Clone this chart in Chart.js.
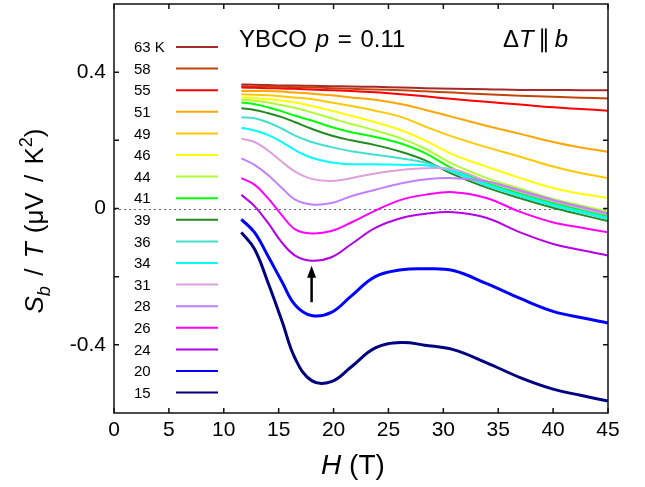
<!DOCTYPE html>
<html>
<head>
<meta charset="utf-8">
<script src="https://cdn.jsdelivr.net/npm/chart.js@4.4.1/dist/chart.umd.min.js"></script>
<style>
  html, body { margin: 0; padding: 0; background: #fff; }
  canvas { display: block; }
</style>
</head>
<body>
<canvas id="myChart" width="645" height="487"></canvas>
<script>
// field values (T) shared by all curves
const fields = [11.6, 12.8, 14, 15.3, 16.5, 18, 19.8, 21.6, 23.8, 26.2, 28.3, 30.9, 33.9, 37, 40, 42.5, 45];

// S_b / T curves, one per temperature
const s63 = [0.364, 0.363, 0.362, 0.361, 0.361, 0.360, 0.359, 0.358, 0.357, 0.355, 0.353, 0.351, 0.350, 0.348, 0.348, 0.347, 0.347];
const s58 = [0.359, 0.358, 0.358, 0.357, 0.356, 0.355, 0.353, 0.351, 0.349, 0.347, 0.344, 0.340, 0.335, 0.331, 0.328, 0.325, 0.323];
const s55 = [0.355, 0.354, 0.353, 0.352, 0.351, 0.349, 0.347, 0.345, 0.341, 0.335, 0.329, 0.321, 0.313, 0.305, 0.297, 0.292, 0.287];
const s51 = [0.345, 0.345, 0.345, 0.343, 0.340, 0.337, 0.332, 0.326, 0.319, 0.306, 0.290, 0.268, 0.243, 0.219, 0.195, 0.179, 0.166];
const s49 = [0.335, 0.334, 0.332, 0.329, 0.326, 0.321, 0.311, 0.301, 0.287, 0.268, 0.241, 0.210, 0.180, 0.152, 0.123, 0.104, 0.089];
const s46 = [0.326, 0.324, 0.321, 0.316, 0.311, 0.301, 0.287, 0.272, 0.253, 0.229, 0.200, 0.158, 0.123, 0.089, 0.060, 0.043, 0.031];
const s44 = [0.319, 0.316, 0.311, 0.303, 0.295, 0.282, 0.265, 0.248, 0.229, 0.205, 0.176, 0.130, 0.090, 0.058, 0.028, 0.009, -0.009];
const s41 = [0.311, 0.306, 0.297, 0.285, 0.272, 0.258, 0.239, 0.224, 0.210, 0.190, 0.163, 0.116, 0.076, 0.044, 0.016, -0.004, -0.023];
const s39 = [0.294, 0.289, 0.280, 0.268, 0.253, 0.234, 0.214, 0.200, 0.186, 0.166, 0.142, 0.100, 0.062, 0.030, 0.002, -0.018, -0.037];
const s36 = [0.268, 0.265, 0.253, 0.234, 0.214, 0.195, 0.180, 0.168, 0.158, 0.147, 0.135, 0.106, 0.068, 0.036, 0.008, -0.012, -0.031];
const s34 = [0.236, 0.229, 0.216, 0.195, 0.171, 0.149, 0.135, 0.130, 0.130, 0.128, 0.127, 0.110, 0.071, 0.039, 0.011, -0.009, -0.028];
const s31 = [0.205, 0.195, 0.171, 0.137, 0.108, 0.087, 0.081, 0.089, 0.103, 0.113, 0.118, 0.115, 0.081, 0.049, 0.021, 0.001, -0.018];
const s28 = [0.147, 0.128, 0.099, 0.060, 0.026, 0.012, 0.016, 0.036, 0.055, 0.074, 0.085, 0.089, 0.080, 0.053, 0.025, 0.005, -0.014];
const s26 = [0.089, 0.070, 0.031, -0.020, -0.061, -0.073, -0.066, -0.041, -0.006, 0.026, 0.040, 0.048, 0.031, -0.010, -0.041, -0.056, -0.070];
const s24 = [0.040, 0.007, -0.041, -0.100, -0.138, -0.153, -0.143, -0.105, -0.057, -0.028, -0.016, -0.011, -0.027, -0.070, -0.104, -0.122, -0.138];
const s20 = [-0.032, -0.070, -0.138, -0.215, -0.283, -0.314, -0.305, -0.257, -0.200, -0.180, -0.177, -0.182, -0.220, -0.264, -0.302, -0.320, -0.336];
const s15 = [-0.070, -0.119, -0.215, -0.330, -0.440, -0.505, -0.508, -0.465, -0.409, -0.393, -0.401, -0.414, -0.452, -0.496, -0.530, -0.548, -0.565];

const temps = [63, 58, 55, 51, 49, 46, 44, 41, 39, 36, 34, 31, 28, 26, 24, 20, 15];
const series = [s63, s58, s55, s51, s49, s46, s44, s41, s39, s36, s34, s31, s28, s26, s24, s20, s15];
const colors = ['#a52a2a', '#c0440c', '#ff0000', '#ffa500', '#ffc800', '#ffff00', '#adff2f', '#00ff00',
                '#228b22', '#40e0d0', '#00ffff', '#dda0dd', '#c080ff', '#ff00ff', '#b400e6', '#0000ff', '#000080'];

// axis ticks
const xTicks = [0, 5, 10, 15, 20, 25, 30, 35, 40, 45];
const yTicks = [-0.4, -0.2, 0, 0.2, 0.4];
const yTickLabels = ['-0.4', '', '0', '', '0.4'];

// arrow marking the minimum of the 24 K curve
const arrowH = 18;
const arrowFrom = -0.275;
const arrowTo = -0.168;

const FONT = '"Liberation Sans", Arial, sans-serif';
const CHART = document.getElementById("myChart");

function richWidth(ctx, parts, size) {
    let w = 0;
    for (const p of parts) {
        const fs = (p.sub || p.sup) ? size * 0.7 : size;
        ctx.font = (p.it ? 'italic ' : '') + fs + 'px ' + FONT;
        w += ctx.measureText(p.t).width + (p.gap || 0);
    }
    return w;
}

function drawRich(ctx, parts, x, y, size) {
    let cx = x;
    for (const p of parts) {
        const fs = (p.sub || p.sup) ? size * 0.7 : size;
        ctx.font = (p.it ? 'italic ' : '') + fs + 'px ' + FONT;
        const dy = p.sub ? size * 0.28 : (p.sup ? -size * 0.42 : 0);
        ctx.fillText(p.t, cx, y + dy);
        cx += ctx.measureText(p.t).width + (p.gap || 0);
    }
}

const decor = {
    id: 'decor',
    beforeDatasetsDraw(chart) {
        const { ctx, chartArea: a, scales: { y } } = chart;
        // dotted zero line
        ctx.save();
        ctx.strokeStyle = '#666';
        ctx.lineWidth = 1.2;
        ctx.setLineDash([2, 3]);
        ctx.beginPath();
        ctx.moveTo(a.left, Math.round(y.getPixelForValue(0)) + 0.5);
        ctx.lineTo(a.right, Math.round(y.getPixelForValue(0)) + 0.5);
        ctx.stroke();
        ctx.restore();
    },
    afterDraw(chart) {
        const { ctx, chartArea: a, scales: { x, y } } = chart;
        ctx.save();
        // frame + inward ticks
        ctx.strokeStyle = '#111';
        ctx.lineWidth = 1.5;
        ctx.strokeRect(a.left, a.top, a.right - a.left, a.bottom - a.top);
        ctx.beginPath();
        xTicks.forEach(v => {
            const px = x.getPixelForValue(v);
            ctx.moveTo(px, a.bottom); ctx.lineTo(px, a.bottom - 5);
            ctx.moveTo(px, a.top); ctx.lineTo(px, a.top + 5);
        });
        yTicks.forEach(v => {
            const py = y.getPixelForValue(v);
            ctx.moveTo(a.left, py); ctx.lineTo(a.left + 5, py);
            ctx.moveTo(a.right, py); ctx.lineTo(a.right - 5, py);
        });
        ctx.stroke();

        // legend
        ctx.fillStyle = '#000';
        ctx.textBaseline = 'middle';
        ctx.font = '15px ' + FONT;
        temps.forEach((t, i) => {
            const ly = 47 + i * 21.6;
            ctx.fillText(i === 0 ? t + ' K' : String(t), 134, ly + 1);
            ctx.strokeStyle = colors[i];
            ctx.lineWidth = 2;
            ctx.beginPath();
            ctx.moveTo(176, ly); ctx.lineTo(218, ly);
            ctx.stroke();
        });

        // arrow
        const ax = x.getPixelForValue(arrowH);
        const y0 = y.getPixelForValue(arrowFrom);
        const y1 = y.getPixelForValue(arrowTo);
        ctx.strokeStyle = '#000';
        ctx.fillStyle = '#000';
        ctx.lineWidth = 2.5;
        ctx.beginPath();
        ctx.moveTo(ax, y0); ctx.lineTo(ax, y1 + 8);
        ctx.stroke();
        ctx.beginPath();
        ctx.moveTo(ax, y1); ctx.lineTo(ax - 4.5, y1 + 12); ctx.lineTo(ax + 4.5, y1 + 12);
        ctx.closePath();
        ctx.fill();

        // texts
        ctx.textBaseline = 'alphabetic';
        drawRich(ctx, [{ t: 'YBCO', gap: 2 }, { t: ' ' }, { t: 'p', it: true, gap: 2 }, { t: ' = ', gap: 2 }, { t: '0.11' }], 239, 47, 24);
        drawRich(ctx, [{ t: '\u0394' }, { t: 'T', it: true, gap: 4 }, { t: '\u2225', gap: 5 }, { t: 'b', it: true }], 503, 47, 24);

        const xt = [{ t: 'H', it: true }, { t: ' (T)' }];
        const xw = richWidth(ctx, xt, 28);
        drawRich(ctx, xt, 353 - xw / 2, 474, 28);

        const yt = [{ t: 'S', it: true }, { t: 'b', it: true, sub: true, gap: 3 }, { t: ' / ', gap: 3 }, { t: 'T', it: true, gap: 2 },
                    { t: ' (\u03bcV', gap: 3 }, { t: ' / ', gap: 3 }, { t: 'K' }, { t: '2', sup: true }, { t: ')' }];
        const yw = richWidth(ctx, yt, 26);
        ctx.translate(43, 221);
        ctx.rotate(-Math.PI / 2);
        drawRich(ctx, yt, -yw / 2, 0, 26);
        ctx.restore();
    }
};

const datasets = temps.map((t, i) => ({
    label: t + ' K',
    data: fields.map((h, j) => ({ x: h, y: series[i][j] })),
    borderColor: colors[i],
    borderWidth: (t <= 20) ? 3 : 2,
    pointRadius: 0,
    tension: 0.4,
    fill: false
})).reverse();

const myChart = new Chart(CHART, {
    type: 'line',
    data: { datasets: datasets },
    options: {
        responsive: false,
        animation: false,
        devicePixelRatio: 1,
        layout: { padding: { top: 4, right: 37, left: 0, bottom: 0 } },
        plugins: { legend: { display: false }, tooltip: { enabled: false } },
        scales: {
            x: {
                type: 'linear',
                min: 0,
                max: 45,
                afterBuildTicks: (scale) => { scale.ticks = xTicks.map(v => ({ value: v })); },
                afterFit: (scale) => { scale.height = 74; scale.paddingLeft = 0; scale.paddingRight = 0; },
                grid: { display: false, drawTicks: false },
                border: { display: false },
                ticks: { color: '#000', padding: 5, maxRotation: 0, font: { family: FONT, size: 21 } }
            },
            y: {
                type: 'linear',
                min: -0.6,
                max: 0.6,
                afterBuildTicks: (scale) => { scale.ticks = yTicks.map(v => ({ value: v })); },
                afterFit: (scale) => { scale.width = 114; scale.paddingTop = 0; scale.paddingBottom = 0; },
                grid: { display: false, drawTicks: false },
                border: { display: false },
                ticks: {
                    color: '#000',
                    padding: 8,
                    font: { family: FONT, size: 21 },
                    callback: (v, i) => yTickLabels[i]
                }
            }
        }
    },
    plugins: [decor]
});
</script>
</body>
</html>
